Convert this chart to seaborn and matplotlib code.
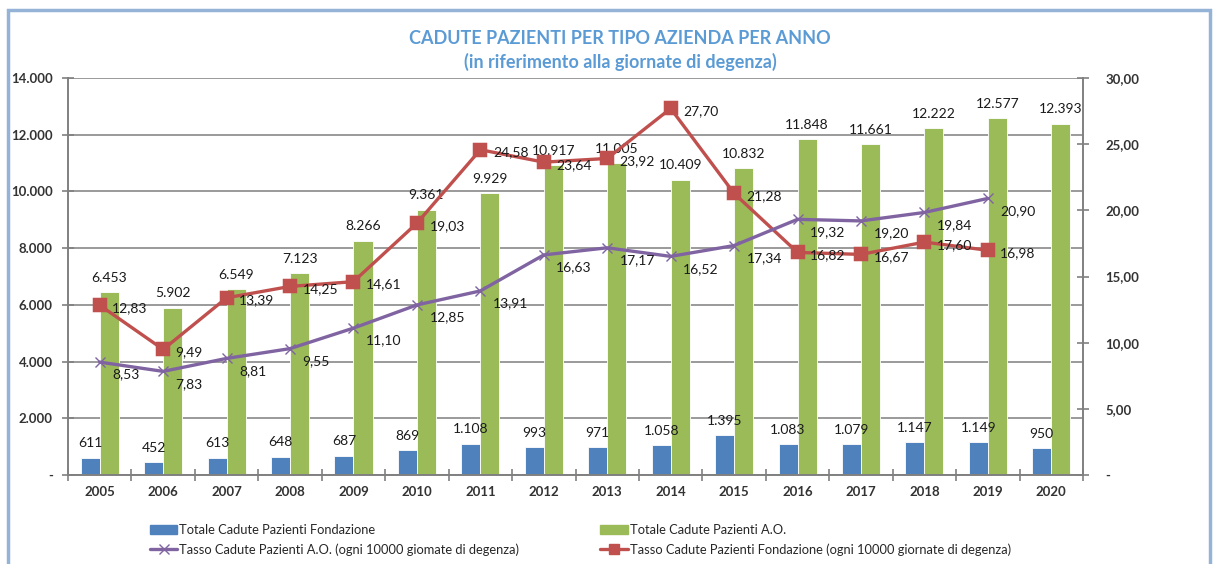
import numpy as np
import pandas as pd
import matplotlib
matplotlib.use("Agg")
import matplotlib.pyplot as plt
from matplotlib.patches import Rectangle, Patch
from matplotlib.lines import Line2D
from matplotlib.ticker import FuncFormatter
from matplotlib import font_manager
import seaborn as sns

years = ["2005", "2006", "2007", "2008", "2009", "2010", "2011", "2012",
         "2013", "2014", "2015", "2016", "2017", "2018", "2019", "2020"]
fondazione = [611, 452, 613, 648, 687, 869, 1108, 993, 971, 1058, 1395,
              1083, 1079, 1147, 1149, 950]
ao = [6453, 5902, 6549, 7123, 8266, 9361, 9929, 10917, 11005, 10409, 10832,
      11848, 11661, 12222, 12577, 12393]
tasso_ao = [8.53, 7.83, 8.81, 9.55, 11.10, 12.85, 13.91, 16.63, 17.17, 16.52,
            17.34, 19.32, 19.20, 19.84, 20.90]
tasso_fond = [12.83, 9.49, 13.39, 14.25, 14.61, 19.03, 24.58, 23.64, 23.92,
              27.70, 21.28, 16.82, 16.67, 17.60, 16.98]

lbl_fond = "Totale Cadute Pazienti Fondazione"
lbl_ao = "Totale Cadute Pazienti A.O."
lbl_tao = "Tasso Cadute Pazienti A.O. (ogni 10000 giomate di degenza)"
lbl_tfond = "Tasso Cadute Pazienti Fondazione (ogni 10000 giornate di degenza)"

BLUE = "#4F81BD"
GREEN = "#9BBB59"
RED = "#C0504D"
PURPLE = "#8064A2"
GRID = "#9A9A9A"
TXT = "#1a1a1a"

sns.set_theme(style="white")
avail = {f.name for f in font_manager.fontManager.ttflist}
narrow = "Liberation Sans Narrow" if "Liberation Sans Narrow" in avail else "Lato"
plt.rcParams["font.family"] = [narrow, "DejaVu Sans"]

bars = pd.DataFrame({
    "anno": years * 2,
    "valore": fondazione + ao,
    "serie": [lbl_fond] * len(years) + [lbl_ao] * len(years),
})
lines_ao = pd.DataFrame({"anno": years[:len(tasso_ao)], "tasso": tasso_ao})
lines_fd = pd.DataFrame({"anno": years[:len(tasso_fond)], "tasso": tasso_fond})

fig = plt.figure(figsize=(12.16, 5.64), dpi=100)
ax = fig.add_axes([68 / 1216, 89 / 564, (1083 - 68) / 1216, (475 - 78) / 564])

sns.barplot(data=bars, x="anno", y="valore", hue="serie", order=years,
            hue_order=[lbl_fond, lbl_ao], palette=[BLUE, GREEN],
            width=0.6, saturation=1, ax=ax, legend=False,
            edgecolor="white", linewidth=0.6)
ax.set_ylim(0, 14000)
ax.set_xlim(-0.5, len(years) - 0.5)

def it_thousands(v, pos):
    if v == 0:
        return "-"
    return f"{int(v):,}".replace(",", ".")

ax.yaxis.set_major_formatter(FuncFormatter(it_thousands))
ax.set_yticks(np.arange(0, 14001, 2000))
ax.yaxis.grid(True, color=GRID, linewidth=1.4)
ax.set_axisbelow(True)
ax.set_xlabel("")
ax.set_ylabel("")

# bar labels
for cont, vals in zip(ax.containers, [fondazione, ao]):
    for rect, v in zip(cont, vals):
        ax.annotate(f"{v:,}".replace(",", "."),
                    (rect.get_x() + rect.get_width() / 2, rect.get_height()),
                    xytext=(0, 6), textcoords="offset points",
                    ha="center", va="bottom", fontsize=10, color=TXT)

ax2 = ax.twinx()
sns.pointplot(data=lines_fd, x="anno", y="tasso", order=years, color=RED,
              markers="s", markersize=8.5, linewidth=2.4, ax=ax2)
sns.pointplot(data=lines_ao, x="anno", y="tasso", order=years, color=PURPLE,
              markers="x", markersize=7, linewidth=2.4, ax=ax2,
              markeredgewidth=1.0)
ax2.set_ylim(0, 30)
ax2.set_xlim(-0.5, len(years) - 0.5)
ax2.set_yticks(np.arange(0, 30.1, 5))

def it_dec(v, pos):
    if v == 0:
        return "-"
    return f"{v:.2f}".replace(".", ",")

ax2.yaxis.set_major_formatter(FuncFormatter(it_dec))
ax2.set_xlabel("")
ax2.set_ylabel("")
ax2.grid(False)

for i, v in enumerate(tasso_fond):
    ax2.annotate(f"{v:.2f}".replace(".", ","), (i, v), xytext=(9, -2),
                 textcoords="offset points", ha="left", va="center",
                 fontsize=10, color=TXT)
for i, v in enumerate(tasso_ao):
    ax2.annotate(f"{v:.2f}".replace(".", ","), (i, v), xytext=(9, -9),
                 textcoords="offset points", ha="left", va="center",
                 fontsize=10, color=TXT)

for a in (ax, ax2):
    a.spines["top"].set_visible(False)
    for s in ("left", "right", "bottom"):
        a.spines[s].set_color("#808080")
        a.spines[s].set_linewidth(1.4)
ax.spines["right"].set_visible(False)
ax2.spines["left"].set_visible(False)
ax2.spines["bottom"].set_visible(False)

ax.tick_params(axis="y", direction="inout", length=8, width=1.2,
               color="#808080", labelsize=9.5, labelcolor=TXT, pad=7, left=True)
ax2.tick_params(axis="y", direction="inout", length=8, width=1.2,
                color="#808080", labelsize=9.5, labelcolor=TXT, pad=12, right=True)
ax.set_xticks(np.arange(-0.5, len(years), 1), minor=True)
ax.tick_params(axis="x", which="major", length=0, labelsize=9.5,
               labelcolor=TXT, pad=8)
ax.tick_params(axis="x", which="minor", direction="inout", length=8,
               width=1.2, color="#808080", bottom=True)
for t in ax.get_xticklabels() + ax.get_yticklabels() + ax2.get_yticklabels():
    t.set_fontweight("bold")
    t.set_color("#333333")

fig.text(0.51, 1 - 38 / 564, "CADUTE PAZIENTI PER TIPO AZIENDA PER ANNO",
         ha="center", va="center", fontsize=13, fontweight="bold",
         color="#5B9BD5")
fig.text(0.51, 1 - 62 / 564, "(in riferimento alla giornate di degenza)",
         ha="center", va="center", fontsize=13, fontweight="bold",
         color="#5B9BD5")

handles = [
    Patch(facecolor=BLUE, edgecolor=BLUE),
    Line2D([], [], color=PURPLE, marker="x", markersize=7, linewidth=2.4),
    Patch(facecolor=GREEN, edgecolor=GREEN),
    Line2D([], [], color=RED, marker="s", markersize=7, linewidth=2.4),
]
labels = [lbl_fond, lbl_tao, lbl_ao, lbl_tfond]
fig.legend(handles, labels, ncol=2, loc="upper left",
           bbox_to_anchor=(150 / 1216, 1 - 524 / 564), frameon=False,
           fontsize=9.3, handlelength=2.1, handletextpad=0.15,
           columnspacing=6.3, labelspacing=0.55, borderaxespad=0,
           borderpad=0)

fig.patches.append(Rectangle((8 / 1216, -0.05), (1210 - 8) / 1216,
                             1 - 10 / 564 + 0.05, transform=fig.transFigure,
                             fill=False, edgecolor="#95B3D7", linewidth=2.5))

fig.savefig("out.png", dpi=100)
